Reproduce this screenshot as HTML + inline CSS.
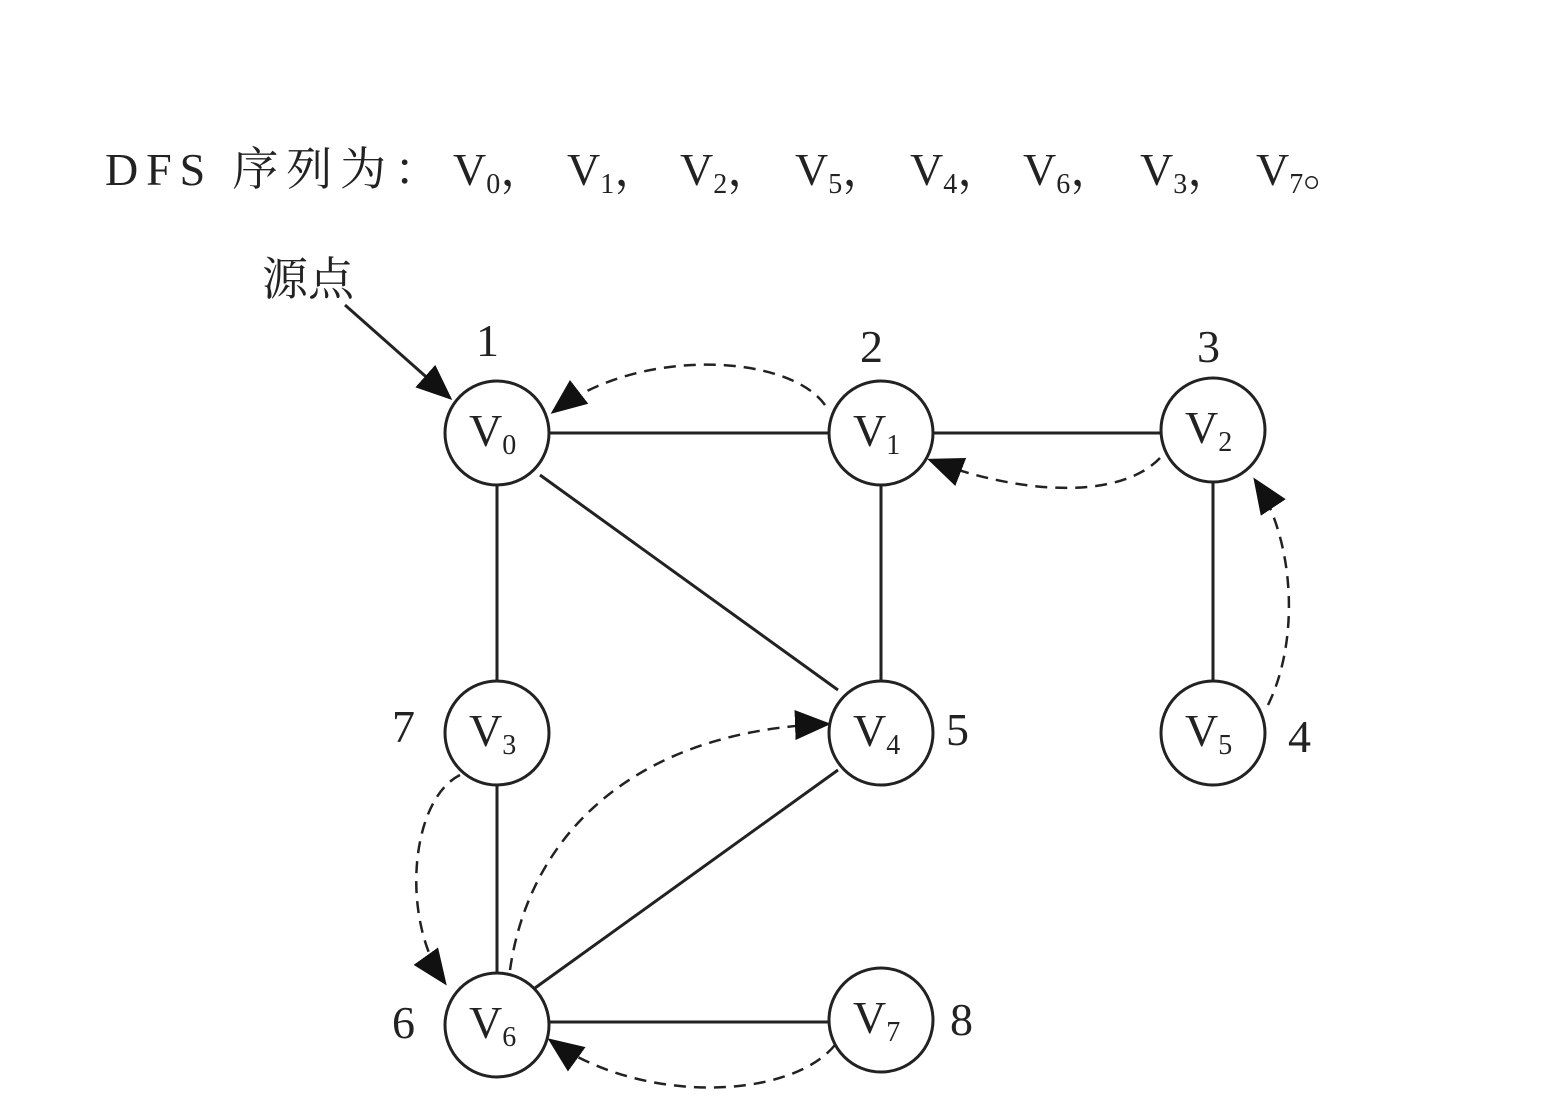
<!DOCTYPE html>
<html><head><meta charset="utf-8"><style>
html,body{margin:0;padding:0;background:#fff;}
svg{display:block;}
text{font-family:"Liberation Serif","Noto Serif CJK SC",serif;fill:#222;}
</style></head><body>
<svg width="1567" height="1120" viewBox="0 0 1567 1120" xmlns="http://www.w3.org/2000/svg">
<defs>
<marker id="a" viewBox="0 0 12 10" refX="11" refY="5" markerWidth="36" markerHeight="30" markerUnits="userSpaceOnUse" orient="auto">
<path d="M0,0 L12,5 L0,10 z" fill="#111"/>
</marker>
</defs>
<g font-size="46">
<text x="105" y="185" textLength="335" lengthAdjust="spacing">DFS 序列为：</text>
<text x="453" y="185">V<tspan font-size="28" dy="8">0</tspan><tspan dy="-8">，</tspan></text>
<text x="567" y="185">V<tspan font-size="28" dy="8">1</tspan><tspan dy="-8">，</tspan></text>
<text x="680" y="185">V<tspan font-size="28" dy="8">2</tspan><tspan dy="-8">，</tspan></text>
<text x="795" y="185">V<tspan font-size="28" dy="8">5</tspan><tspan dy="-8">，</tspan></text>
<text x="910" y="185">V<tspan font-size="28" dy="8">4</tspan><tspan dy="-8">，</tspan></text>
<text x="1023" y="185">V<tspan font-size="28" dy="8">6</tspan><tspan dy="-8">，</tspan></text>
<text x="1140" y="185">V<tspan font-size="28" dy="8">3</tspan><tspan dy="-8">，</tspan></text>
<text x="1256" y="185">V<tspan font-size="28" dy="8">7</tspan><tspan dy="-8">。</tspan></text>
</g>
<text x="262" y="295" font-size="46">源点</text>
<g stroke="#222" stroke-width="3" fill="none">
<line x1="549" y1="433" x2="829" y2="433"/>
<line x1="933" y1="433" x2="1161" y2="433"/>
<line x1="497" y1="484" x2="497" y2="681"/>
<line x1="497" y1="785" x2="497" y2="973"/>
<line x1="540" y1="475" x2="838" y2="690"/>
<line x1="881" y1="484" x2="881" y2="681"/>
<line x1="1213" y1="482" x2="1213" y2="681"/>
<line x1="838" y1="770" x2="535" y2="988"/>
<line x1="549" y1="1022" x2="829" y2="1022"/>
<line x1="345" y1="305" x2="450" y2="398" marker-end="url(#a)"/>
</g>
<g stroke="#222" stroke-width="2.5" fill="none" stroke-dasharray="12,8">
<path d="M825,405 C790,355 640,345 553,412" marker-end="url(#a)"/>
<path d="M1160,458 C1120,500 1020,495 930,460" marker-end="url(#a)"/>
<path d="M1268,705 C1300,640 1295,540 1255,480" marker-end="url(#a)"/>
<path d="M510,970 C530,830 640,730 828,724" marker-end="url(#a)"/>
<path d="M460,775 C410,800 400,920 445,983" marker-end="url(#a)"/>
<path d="M835,1045 C790,1100 640,1105 550,1040" marker-end="url(#a)"/>
</g>
<g stroke="#222" stroke-width="3" fill="#fff">
<circle cx="497" cy="433" r="52"/>
<circle cx="881" cy="433" r="52"/>
<circle cx="1213" cy="430" r="52"/>
<circle cx="497" cy="733" r="52"/>
<circle cx="881" cy="733" r="52"/>
<circle cx="1213" cy="733" r="52"/>
<circle cx="497" cy="1025" r="52"/>
<circle cx="881" cy="1020" r="52"/>
</g>
<g font-size="46">
<text x="469" y="446">V<tspan font-size="28" dy="8">0</tspan></text>
<text x="853" y="446">V<tspan font-size="28" dy="8">1</tspan></text>
<text x="1185" y="443">V<tspan font-size="28" dy="8">2</tspan></text>
<text x="469" y="746">V<tspan font-size="28" dy="8">3</tspan></text>
<text x="853" y="746">V<tspan font-size="28" dy="8">4</tspan></text>
<text x="1185" y="746">V<tspan font-size="28" dy="8">5</tspan></text>
<text x="469" y="1038">V<tspan font-size="28" dy="8">6</tspan></text>
<text x="853" y="1033">V<tspan font-size="28" dy="8">7</tspan></text>
<text x="476" y="356">1</text>
<text x="860" y="362">2</text>
<text x="1197" y="362">3</text>
<text x="1288" y="752">4</text>
<text x="946" y="745">5</text>
<text x="392" y="1038">6</text>
<text x="392" y="742">7</text>
<text x="950" y="1035">8</text>
</g>
</svg>
</body></html>
